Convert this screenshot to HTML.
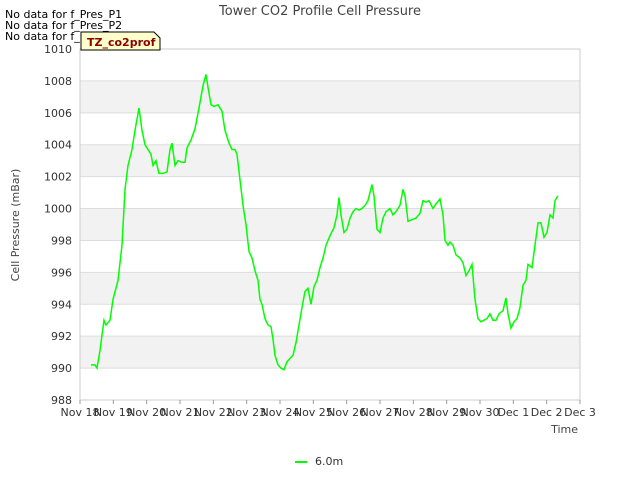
<!DOCTYPE html>
<html><head><meta charset="utf-8"><style>
body{margin:0;background:#fff;font-family:"DejaVu Sans","Liberation Sans",sans-serif;}
svg text{font-family:"DejaVu Sans","Liberation Sans",sans-serif;}
</style></head><body>
<svg id="chart" width="640" height="480">
<rect x="0" y="0" width="640" height="480" fill="#fff"/>
<g id="bands"></g>
<g id="grid"></g>
<rect x="80" y="49" width="500" height="351" fill="none" stroke="#ccc"/>
<g id="yticks"></g><g id="xticks"></g>
<polyline id="line" fill="none" stroke="#00ff00" stroke-width="1.5"/>
<text x="320" y="15" text-anchor="middle" font-size="13" fill="#444">Tower CO2 Profile Cell Pressure</text>
<text x="19" y="225" text-anchor="middle" font-size="11" fill="#444" transform="rotate(-90 19 225)">Cell Pressure (mBar)</text>
<text x="578" y="433" text-anchor="end" font-size="11" fill="#444">Time</text>
<text x="5" y="18" font-size="11" fill="#000">No data for f_Pres_P1</text>
<text x="5" y="29" font-size="11" fill="#000">No data for f_Pres_P2</text>
<text x="5" y="40" font-size="11" fill="#000">No data for f_Pres_P4</text>
<g>
<path d="M81,32 L154,32 L160,38 L160,50 L81,50 Z" fill="#ffffcc" stroke="#000"/>
<text x="87" y="46" font-size="11" font-weight="bold" fill="#8b0000">TZ_co2prof</text></g>
<g>
<line x1="295" y1="462" x2="307" y2="462" stroke="#00ff00" stroke-width="2"/>
<text x="315" y="465" font-size="11" fill="#333">6.0m</text></g>
</svg>
<script>
const yTicks=[988,990,992,994,996,998,1000,1002,1004,1006,1008,1010];
const xLabels=["Nov 18","Nov 19","Nov 20","Nov 21","Nov 22","Nov 23","Nov 24","Nov 25","Nov 26","Nov 27","Nov 28","Nov 29","Nov 30","Dec 1","Dec 2","Dec 3"];
const times=[0.33,0.45,0.51,0.6,0.72,0.78,0.9,0.99,1.14,1.26,1.35,1.44,1.56,1.65,1.77,1.86,1.95,2.04,2.13,2.19,2.28,2.37,2.49,2.61,2.7,2.76,2.85,2.94,3.06,3.15,3.21,3.33,3.45,3.57,3.69,3.78,3.84,3.93,4.02,4.14,4.26,4.35,4.47,4.56,4.65,4.71,4.8,4.89,4.98,5.07,5.16,5.25,5.34,5.4,5.46,5.55,5.64,5.73,5.79,5.85,5.94,6.03,6.12,6.21,6.3,6.39,6.48,6.57,6.66,6.75,6.84,6.93,7.02,7.11,7.2,7.29,7.38,7.5,7.62,7.71,7.77,7.83,7.92,8.01,8.1,8.19,8.28,8.37,8.46,8.55,8.64,8.76,8.82,8.91,9.0,9.09,9.18,9.3,9.39,9.48,9.6,9.69,9.75,9.84,9.96,10.08,10.2,10.29,10.38,10.47,10.59,10.68,10.8,10.89,10.95,11.04,11.1,11.19,11.28,11.4,11.49,11.58,11.67,11.76,11.85,11.94,12.03,12.12,12.21,12.3,12.39,12.48,12.57,12.69,12.78,12.84,12.93,13.02,13.11,13.2,13.29,13.38,13.44,13.56,13.65,13.74,13.83,13.92,14.01,14.1,14.19,14.25,14.34];
const pressure=[990.2,990.2,990.0,991.1,993.0,992.7,993.0,994.3,995.5,997.7,1001.2,1002.7,1003.7,1004.9,1006.3,1004.9,1004.0,1003.7,1003.4,1002.7,1003.0,1002.2,1002.2,1002.3,1003.7,1004.1,1002.7,1003.0,1002.9,1002.9,1003.8,1004.3,1005.0,1006.3,1007.7,1008.4,1007.6,1006.5,1006.4,1006.5,1006.1,1004.9,1004.1,1003.7,1003.7,1003.4,1001.8,1000.2,999.0,997.3,996.9,996.1,995.5,994.3,994.0,993.1,992.7,992.6,991.8,990.8,990.2,990.0,989.9,990.4,990.6,990.8,991.6,992.7,993.8,994.8,995.0,994.0,995.1,995.5,996.3,996.9,997.7,998.3,998.8,999.6,1000.7,999.6,998.5,998.7,999.4,999.8,1000.0,999.9,1000.0,1000.2,1000.5,1001.5,1000.8,998.7,998.5,999.4,999.8,1000.0,999.6,999.8,1000.2,1001.2,1000.8,999.2,999.3,999.4,999.7,1000.5,1000.4,1000.5,1000.0,1000.3,1000.6,999.6,998.0,997.7,997.9,997.7,997.1,996.9,996.6,995.8,996.1,996.5,994.3,993.1,992.9,993.0,993.1,993.4,993.0,993.0,993.4,993.6,994.4,993.4,992.5,992.9,993.1,993.8,995.2,995.5,996.5,996.3,997.7,999.1,999.1,998.2,998.5,999.6,999.4,1000.5,1000.8];
const NS="http://www.w3.org/2000/svg";
const X0=80,X1=580,Y0=400,Y1=49;
function xs(t){return X0+(t/15)*(X1-X0);}
function ys(v){return Y0-(v-988)/22*(Y0-Y1);}
function mk(tag,attrs,parent){const e=document.createElementNS(NS,tag);for(const k in attrs)e.setAttribute(k,attrs[k]);parent.appendChild(e);return e;}
const bands=document.getElementById('bands'),grid=document.getElementById('grid'),yt=document.getElementById('yticks'),xt=document.getElementById('xticks');
for(let i=0;i<yTicks.length-1;i++){
 if(i%2===1){const r=mk('rect',{x:X0,y:ys(yTicks[i+1]),width:X1-X0,height:ys(yTicks[i])-ys(yTicks[i+1]),fill:'#f2f2f2'},bands);
 
 }
}
yTicks.forEach(v=>{const y=ys(v);
 const l=mk('line',{x1:X0,x2:X1,y1:y,y2:y,stroke:'#ddd'},grid);
 
 
 const t=mk('text',{x:X0-8,y:y+4,'text-anchor':'end','font-size':11,fill:'#333'},yt);t.textContent=v;
 
 
});
xLabels.forEach((s,i)=>{const x=xs(i);
 mk('line',{x1:x,x2:x,y1:Y0,y2:Y0+4,stroke:'#999'},xt);
 const t=mk('text',{x:x,y:Y0+16,'text-anchor':'middle','font-size':11,fill:'#333'},xt);t.textContent=s;
 
 
});
document.getElementById('line').setAttribute('points',times.map((t,i)=>xs(t).toFixed(1)+','+ys(pressure[i]).toFixed(1)).join(' '));
</script>
</body></html>
